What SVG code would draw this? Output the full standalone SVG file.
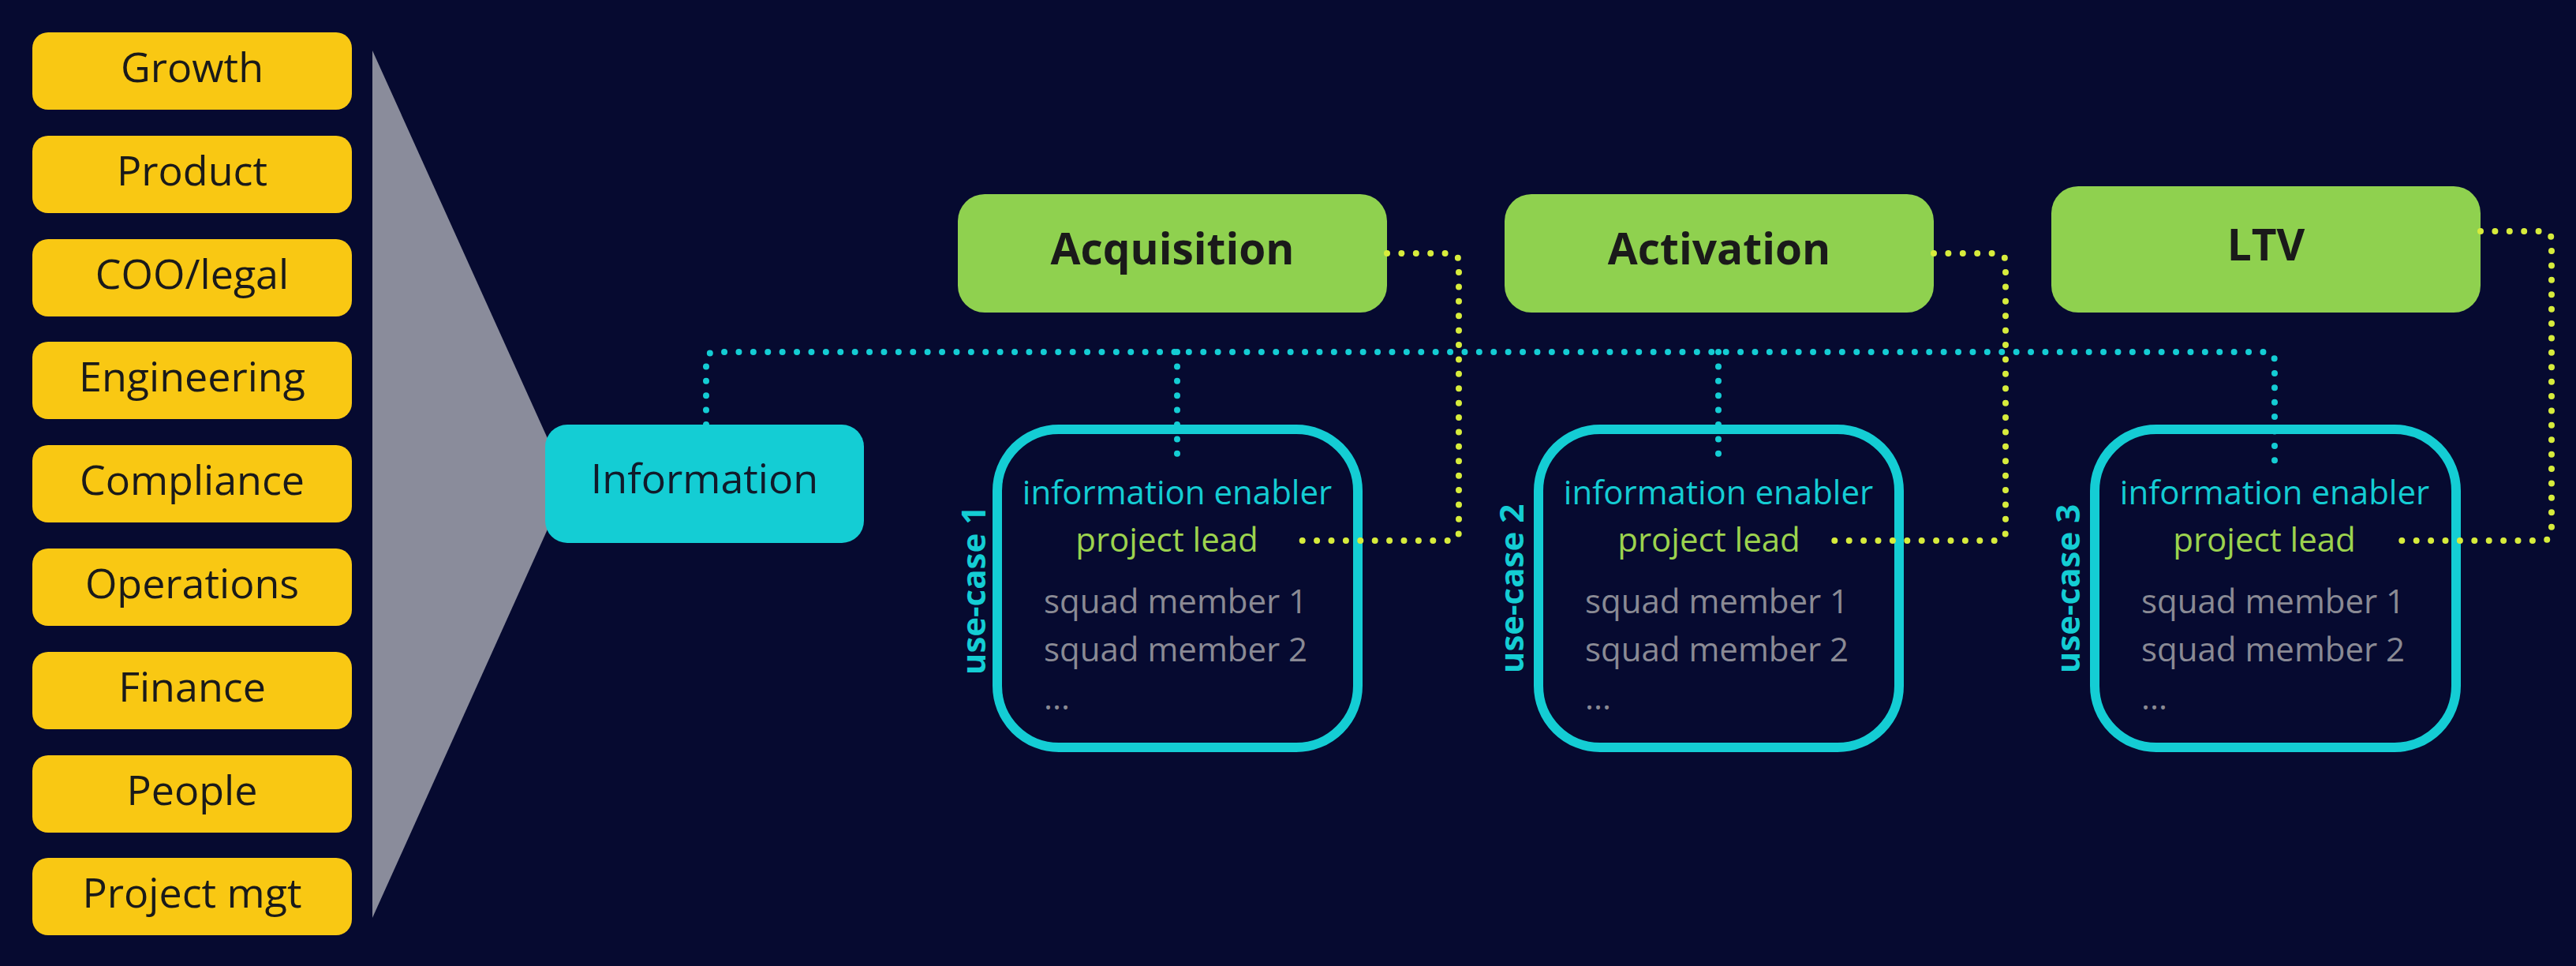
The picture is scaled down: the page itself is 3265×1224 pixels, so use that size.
<svg xmlns="http://www.w3.org/2000/svg" width="3265" height="1224" viewBox="0 0 3265 1224">
<style>
.dept rect{fill:#f9c813}
.dept text{font-family:"Open Sans","Liberation Sans",sans-serif;font-size:52px;fill:#1a1a1a;text-anchor:middle}
.stage rect{fill:#8fd14f}
.stage text{font-family:"Open Sans","Liberation Sans",sans-serif;font-size:55px;font-weight:700;fill:#1a1a1a;text-anchor:middle}
.uc rect{fill:none;stroke:#14cdd4;stroke-width:12}
.uc text{font-family:"Open Sans","Liberation Sans",sans-serif;font-size:42px}
.uc .en{fill:#14cdd4;text-anchor:middle}
.uc .pl{fill:#9cd34e;text-anchor:middle}
.uc .sq{fill:#8a8a94}
.uc .lbl{fill:#14cdd4;font-weight:700;text-anchor:middle}
.dc{fill:none;stroke:#14cdd4;stroke-width:8;stroke-linecap:round;stroke-dasharray:0 18.4}
.dy{fill:none;stroke:#d7ec3c;stroke-width:8;stroke-linecap:round;stroke-dasharray:0 18.4}
</style>
<rect width="3265" height="1224" fill="#060a30"/>
<polygon id="funnel" points="472,64 472,1163 720,613" fill="#8a8c9b"/>
<g id="growth" class="dept"><rect x="41" y="41" width="405" height="98" rx="20"/><text x="243.5" y="104">Growth</text></g>
<g id="product" class="dept"><rect x="41" y="172" width="405" height="98" rx="20"/><text x="243.5" y="235">Product</text></g>
<g id="coo-legal" class="dept"><rect x="41" y="303" width="405" height="98" rx="20"/><text x="243.5" y="366">COO/legal</text></g>
<g id="engineering" class="dept"><rect x="41" y="433" width="405" height="98" rx="20"/><text x="243.5" y="496">Engineering</text></g>
<g id="compliance" class="dept"><rect x="41" y="564" width="405" height="98" rx="20"/><text x="243.5" y="627">Compliance</text></g>
<g id="operations" class="dept"><rect x="41" y="695" width="405" height="98" rx="20"/><text x="243.5" y="758">Operations</text></g>
<g id="finance" class="dept"><rect x="41" y="826" width="405" height="98" rx="20"/><text x="243.5" y="889">Finance</text></g>
<g id="people" class="dept"><rect x="41" y="957" width="405" height="98" rx="20"/><text x="243.5" y="1020">People</text></g>
<g id="project-mgt" class="dept"><rect x="41" y="1087" width="405" height="98" rx="20"/><text x="243.5" y="1150">Project mgt</text></g>
<g id="information"><rect x="691" y="538" width="404" height="150" rx="28" fill="#14cdd4"/><text x="893" y="625" font-family="Open Sans, Liberation Sans, sans-serif" font-size="52" fill="#111a2a" text-anchor="middle">Information</text></g>
<g id="acquisition" class="stage"><rect x="1214" y="246" width="544" height="150" rx="34"/><text x="1486" y="335">Acquisition</text></g>
<g id="activation" class="stage"><rect x="1907" y="246" width="544" height="150" rx="34"/><text x="2179" y="335">Activation</text></g>
<g id="ltv" class="stage"><rect x="2600" y="236" width="544" height="160" rx="34"/><text x="2872" y="330">LTV</text></g>
<g id="use-case-1" class="uc">
<rect x="1264" y="544" width="457" height="403" rx="78"/>
<text class="en" x="1492" y="639">information enabler</text>
<text class="pl" x="1479" y="699">project lead</text>
<text class="sq" x="1323" y="777">squad member 1</text>
<text class="sq" x="1323" y="838">squad member 2</text>
<text class="sq" x="1323" y="899">...</text>
<text class="lbl" transform="translate(1249,748) rotate(-90)">use-case 1</text>
</g>
<g id="use-case-2" class="uc">
<rect x="1950" y="544" width="457" height="403" rx="78"/>
<text class="en" x="2178" y="639">information enabler</text>
<text class="pl" x="2166" y="699">project lead</text>
<text class="sq" x="2009" y="777">squad member 1</text>
<text class="sq" x="2009" y="838">squad member 2</text>
<text class="sq" x="2009" y="899">...</text>
<text class="lbl" transform="translate(1931,746) rotate(-90)">use-case 2</text>
</g>
<g id="use-case-3" class="uc">
<rect x="2655" y="544" width="458" height="403" rx="78"/>
<text class="en" x="2883" y="639">information enabler</text>
<text class="pl" x="2870" y="699">project lead</text>
<text class="sq" x="2714" y="777">squad member 1</text>
<text class="sq" x="2714" y="838">squad member 2</text>
<text class="sq" x="2714" y="899">...</text>
<text class="lbl" transform="translate(2636,746) rotate(-90)">use-case 3</text>
</g>
<g id="connectors">
<path class="dc" d="M895,538 V458 Q895,446 907,446 H2871 Q2883,446 2883,458 V586"/>
<path class="dc" d="M1492,446 V591"/>
<path class="dc" d="M2178,446 V589"/>
<path class="dy" d="M1758,321 H1837 Q1849,321 1849,333 V673 Q1849,685 1837,685 H1634"/>
<path class="dy" d="M2451,321 H2530 Q2542,321 2542,333 V673 Q2542,685 2530,685 H2309"/>
<path class="dy" d="M3144,293 H3222 Q3234,293 3234,305 V673 Q3234,685 3222,685 H3029"/>
</g>
</svg>
